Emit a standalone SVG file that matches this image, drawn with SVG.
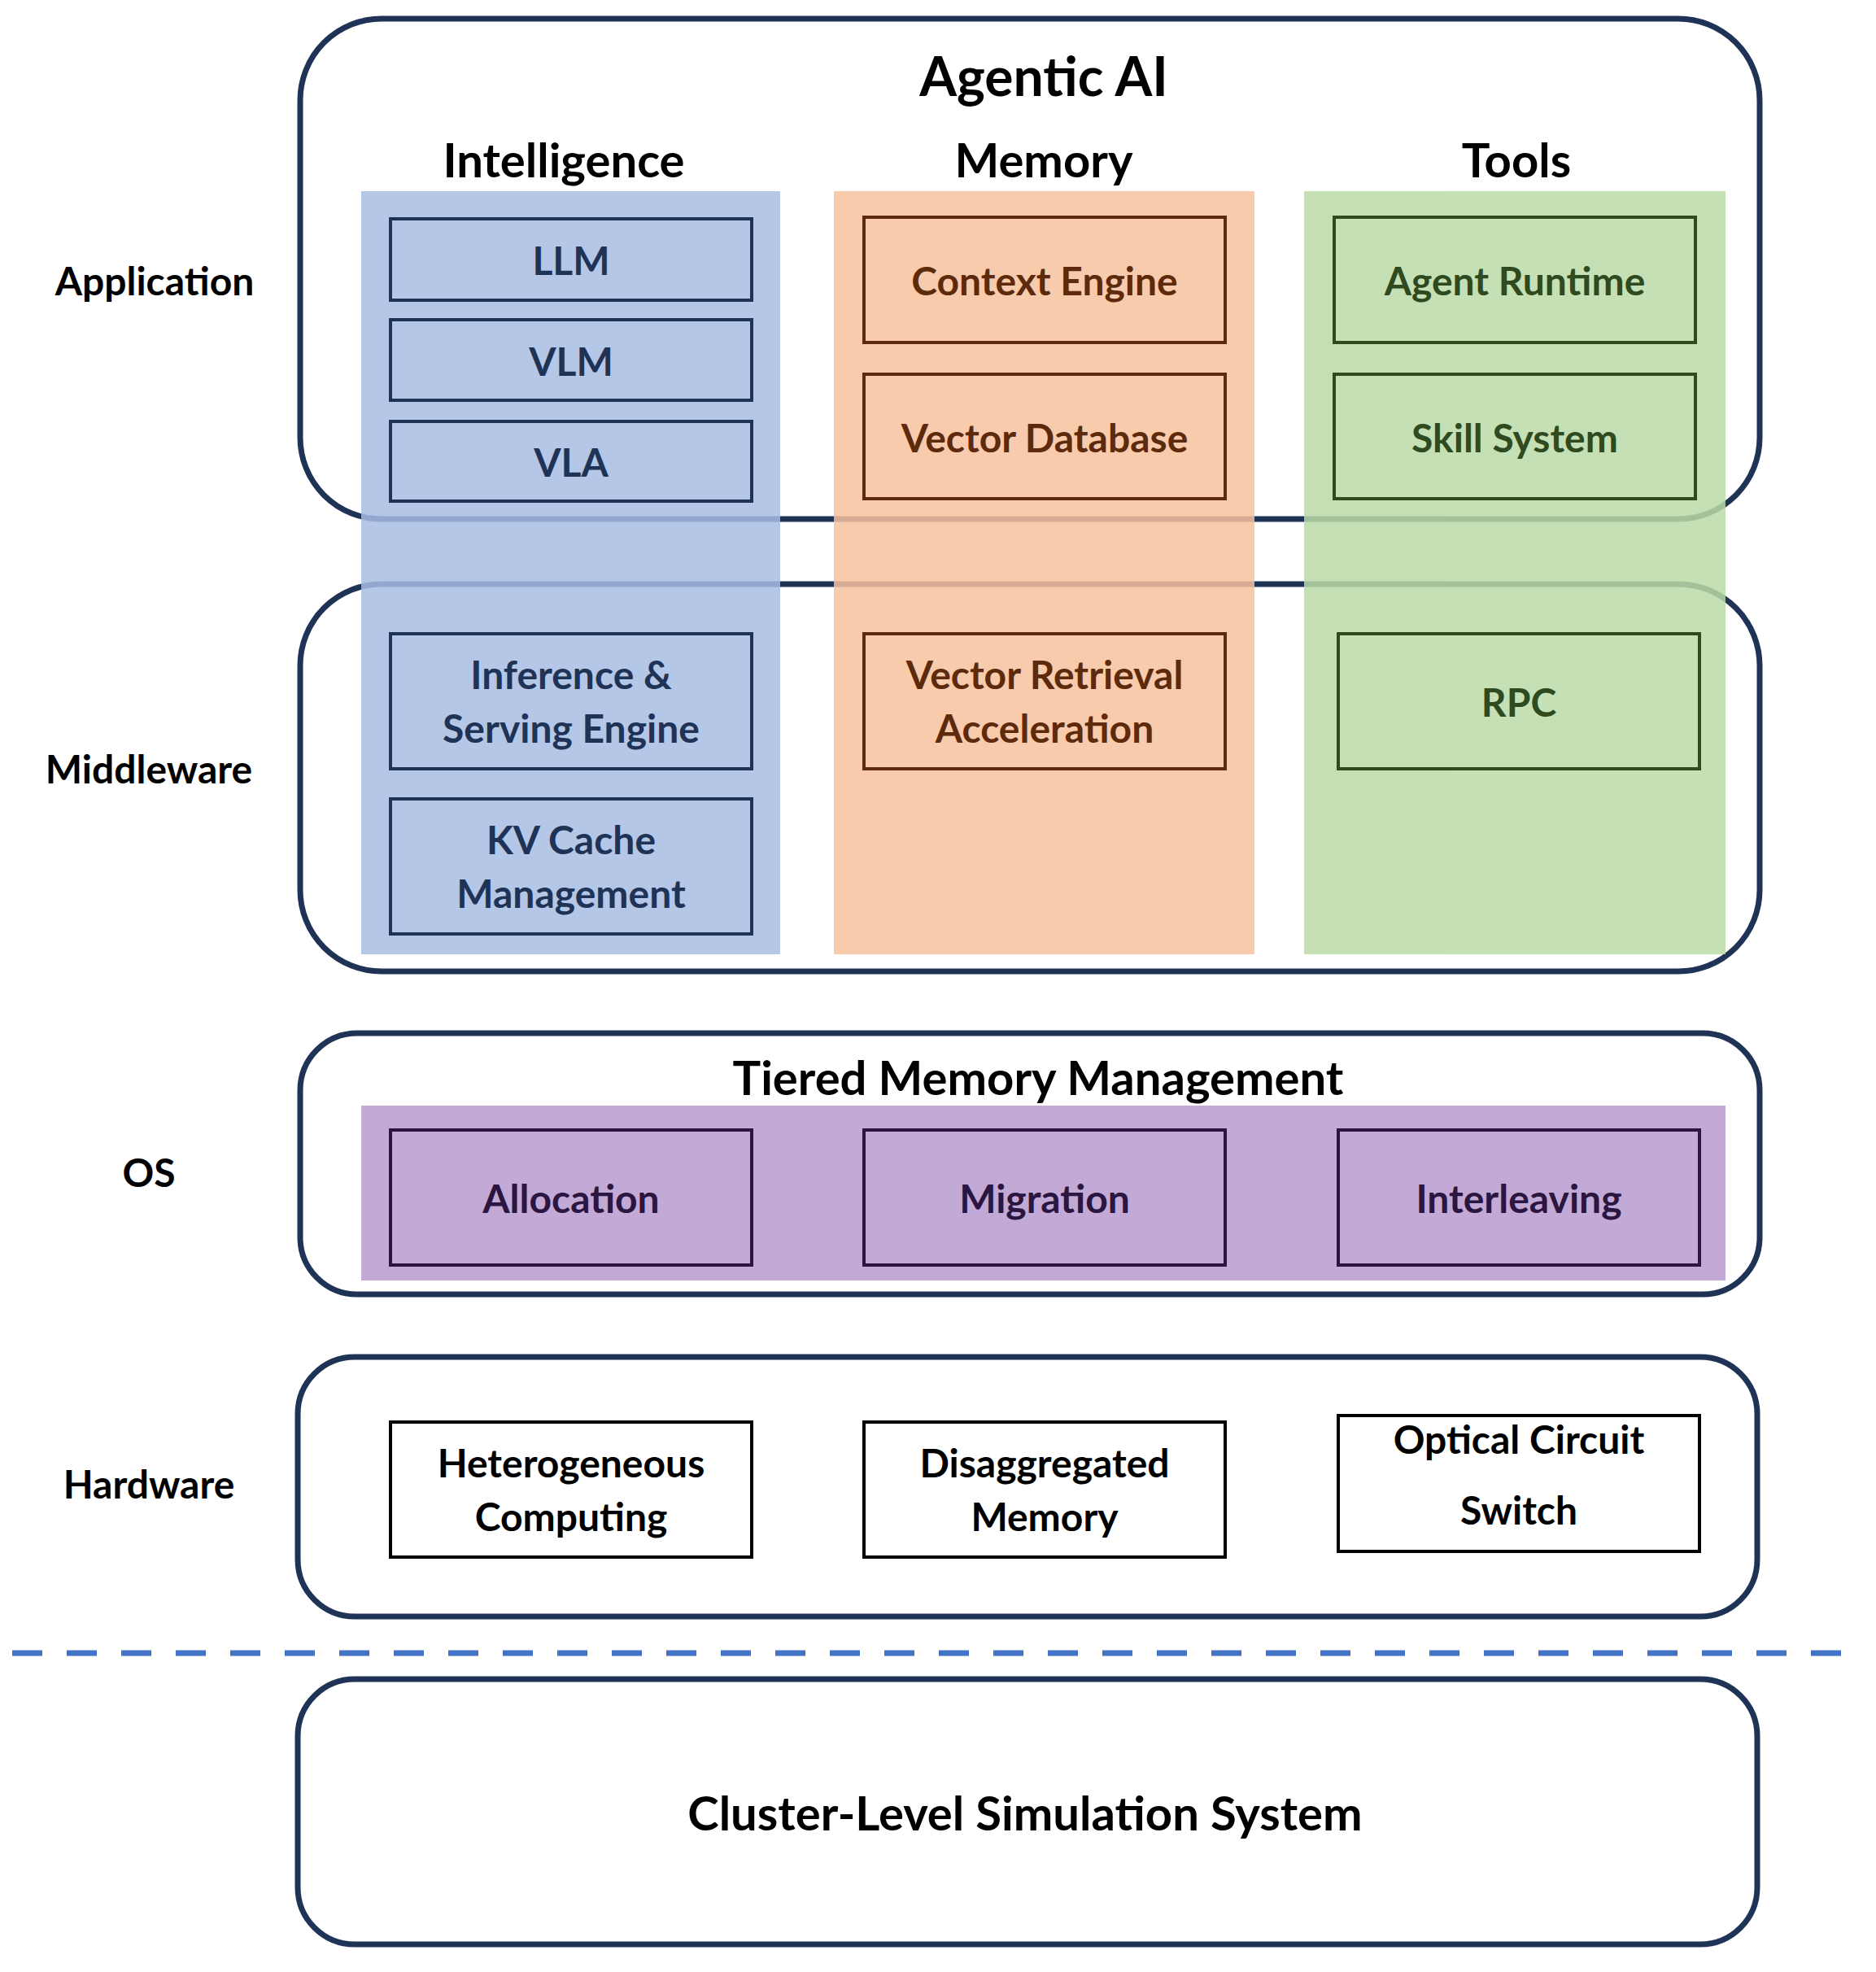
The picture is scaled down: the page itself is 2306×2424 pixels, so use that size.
<svg xmlns="http://www.w3.org/2000/svg" width="2306" height="2424" viewBox="0 0 2306 2424">
<style>
text{font-family:"Lato","Open Sans","Liberation Sans",sans-serif;font-weight:bold;text-anchor:middle;dominant-baseline:central}
.frame{fill:none;stroke:#1F3356;stroke-width:7}
.lbl{font-size:48px;fill:#000}
.hd{font-size:58px;fill:#000}
.bt{font-size:48px}
.bb{fill:#B4C7E7;stroke:#1F3356;stroke-width:4}
.ob{fill:#F8CBAD;stroke:#5E2A0C;stroke-width:4}
.gb{fill:#C5E0B4;stroke:#2F4A1E;stroke-width:4}
.pb{fill:#C3A9D5;stroke:#2A1640;stroke-width:4}
.wb{fill:#fff;stroke:#000;stroke-width:4}
</style>
<rect width="2306" height="2424" fill="#fff"/>
<g id="frames">
<rect class="frame" x="369" y="23" width="1794" height="615" rx="100"/>
<rect class="frame" x="369" y="718" width="1794" height="476" rx="100"/>
</g>
<g id="columns" opacity="0.85">
<rect x="444" y="235" width="515" height="938" fill="#A7BDE3"/>
<rect x="1025" y="235" width="517" height="938" fill="#F7C29F"/>
<rect x="1603" y="235" width="518" height="938" fill="#BBDAA7"/>
</g>
<g id="labels">
<text class="lbl" x="190" y="344">Application</text>
<text class="lbl" x="183" y="944">Middleware</text>
<text class="lbl" x="183" y="1440">OS</text>
<text class="lbl" x="183" y="1823">Hardware</text>
<text x="1283" y="92" font-size="66">Agentic AI</text>
<text class="hd" x="693" y="195">Intelligence</text>
<text class="hd" x="1283" y="195">Memory</text>
<text class="hd" x="1864" y="195">Tools</text>
</g>
<g id="intelligence" fill="#1F3356">
<rect class="bb" x="480" y="269" width="444" height="100"/><text class="bt" x="702" y="319">LLM</text>
<rect class="bb" x="480" y="393" width="444" height="99"/><text class="bt" x="702" y="443">VLM</text>
<rect class="bb" x="480" y="518" width="444" height="98"/><text class="bt" x="702" y="567">VLA</text>
<rect class="bb" x="480" y="779" width="444" height="166"/><text class="bt" x="702" y="828">Inference &amp;</text><text class="bt" x="702" y="894">Serving Engine</text>
<rect class="bb" x="480" y="982" width="444" height="166"/><text class="bt" x="702" y="1031">KV Cache</text><text class="bt" x="702" y="1097">Management</text>
</g>
<g id="memory" fill="#5E2A0C">
<rect class="ob" x="1062" y="267" width="444" height="154"/><text class="bt" x="1284" y="344">Context Engine</text>
<rect class="ob" x="1062" y="460" width="444" height="153"/><text class="bt" x="1284" y="537">Vector Database</text>
<rect class="ob" x="1062" y="779" width="444" height="166"/><text class="bt" x="1284" y="828">Vector Retrieval</text><text class="bt" x="1284" y="894">Acceleration</text>
</g>
<g id="tools" fill="#2F4A1E">
<rect class="gb" x="1640" y="267" width="444" height="154"/><text class="bt" x="1862" y="344">Agent Runtime</text>
<rect class="gb" x="1640" y="460" width="444" height="153"/><text class="bt" x="1862" y="537">Skill System</text>
<rect class="gb" x="1645" y="779" width="444" height="166"/><text class="bt" x="1867" y="862">RPC</text>
</g>
<g id="os">
<rect class="frame" x="369" y="1270" width="1794" height="321" rx="70"/>
<text class="hd" x="1276" y="1323">Tiered Memory Management</text>
<rect x="444" y="1359" width="1677" height="215" fill="#C3A9D5"/>
<g fill="#2A1640">
<rect class="pb" x="480" y="1389" width="444" height="166"/><text class="bt" x="702" y="1472">Allocation</text>
<rect class="pb" x="1062" y="1389" width="444" height="166"/><text class="bt" x="1284" y="1472">Migration</text>
<rect class="pb" x="1645" y="1389" width="444" height="166"/><text class="bt" x="1867" y="1472">Interleaving</text>
</g>
</g>
<g id="hardware" fill="#000">
<rect class="frame" x="366" y="1668" width="1794" height="319" rx="70"/>
<rect class="wb" x="480" y="1748" width="444" height="166"/><text class="bt" x="702" y="1797">Heterogeneous</text><text class="bt" x="702" y="1863">Computing</text>
<rect class="wb" x="1062" y="1748" width="444" height="166"/><text class="bt" x="1284" y="1797">Disaggregated</text><text class="bt" x="1284" y="1863">Memory</text>
<rect class="wb" x="1645" y="1740" width="444" height="167"/><text class="bt" x="1867" y="1768">Optical Circuit</text><text class="bt" x="1867" y="1855">Switch</text>
</g>
<g id="connectors">
<line x1="15" y1="2032" x2="2290" y2="2032" stroke="#4472C4" stroke-width="7" stroke-dasharray="37,30"/>
</g>
<g id="cluster">
<rect class="frame" x="366" y="2064" width="1794" height="326" rx="70"/>
<text class="hd" x="1260" y="2227">Cluster-Level Simulation System</text>
</g>
</svg>
